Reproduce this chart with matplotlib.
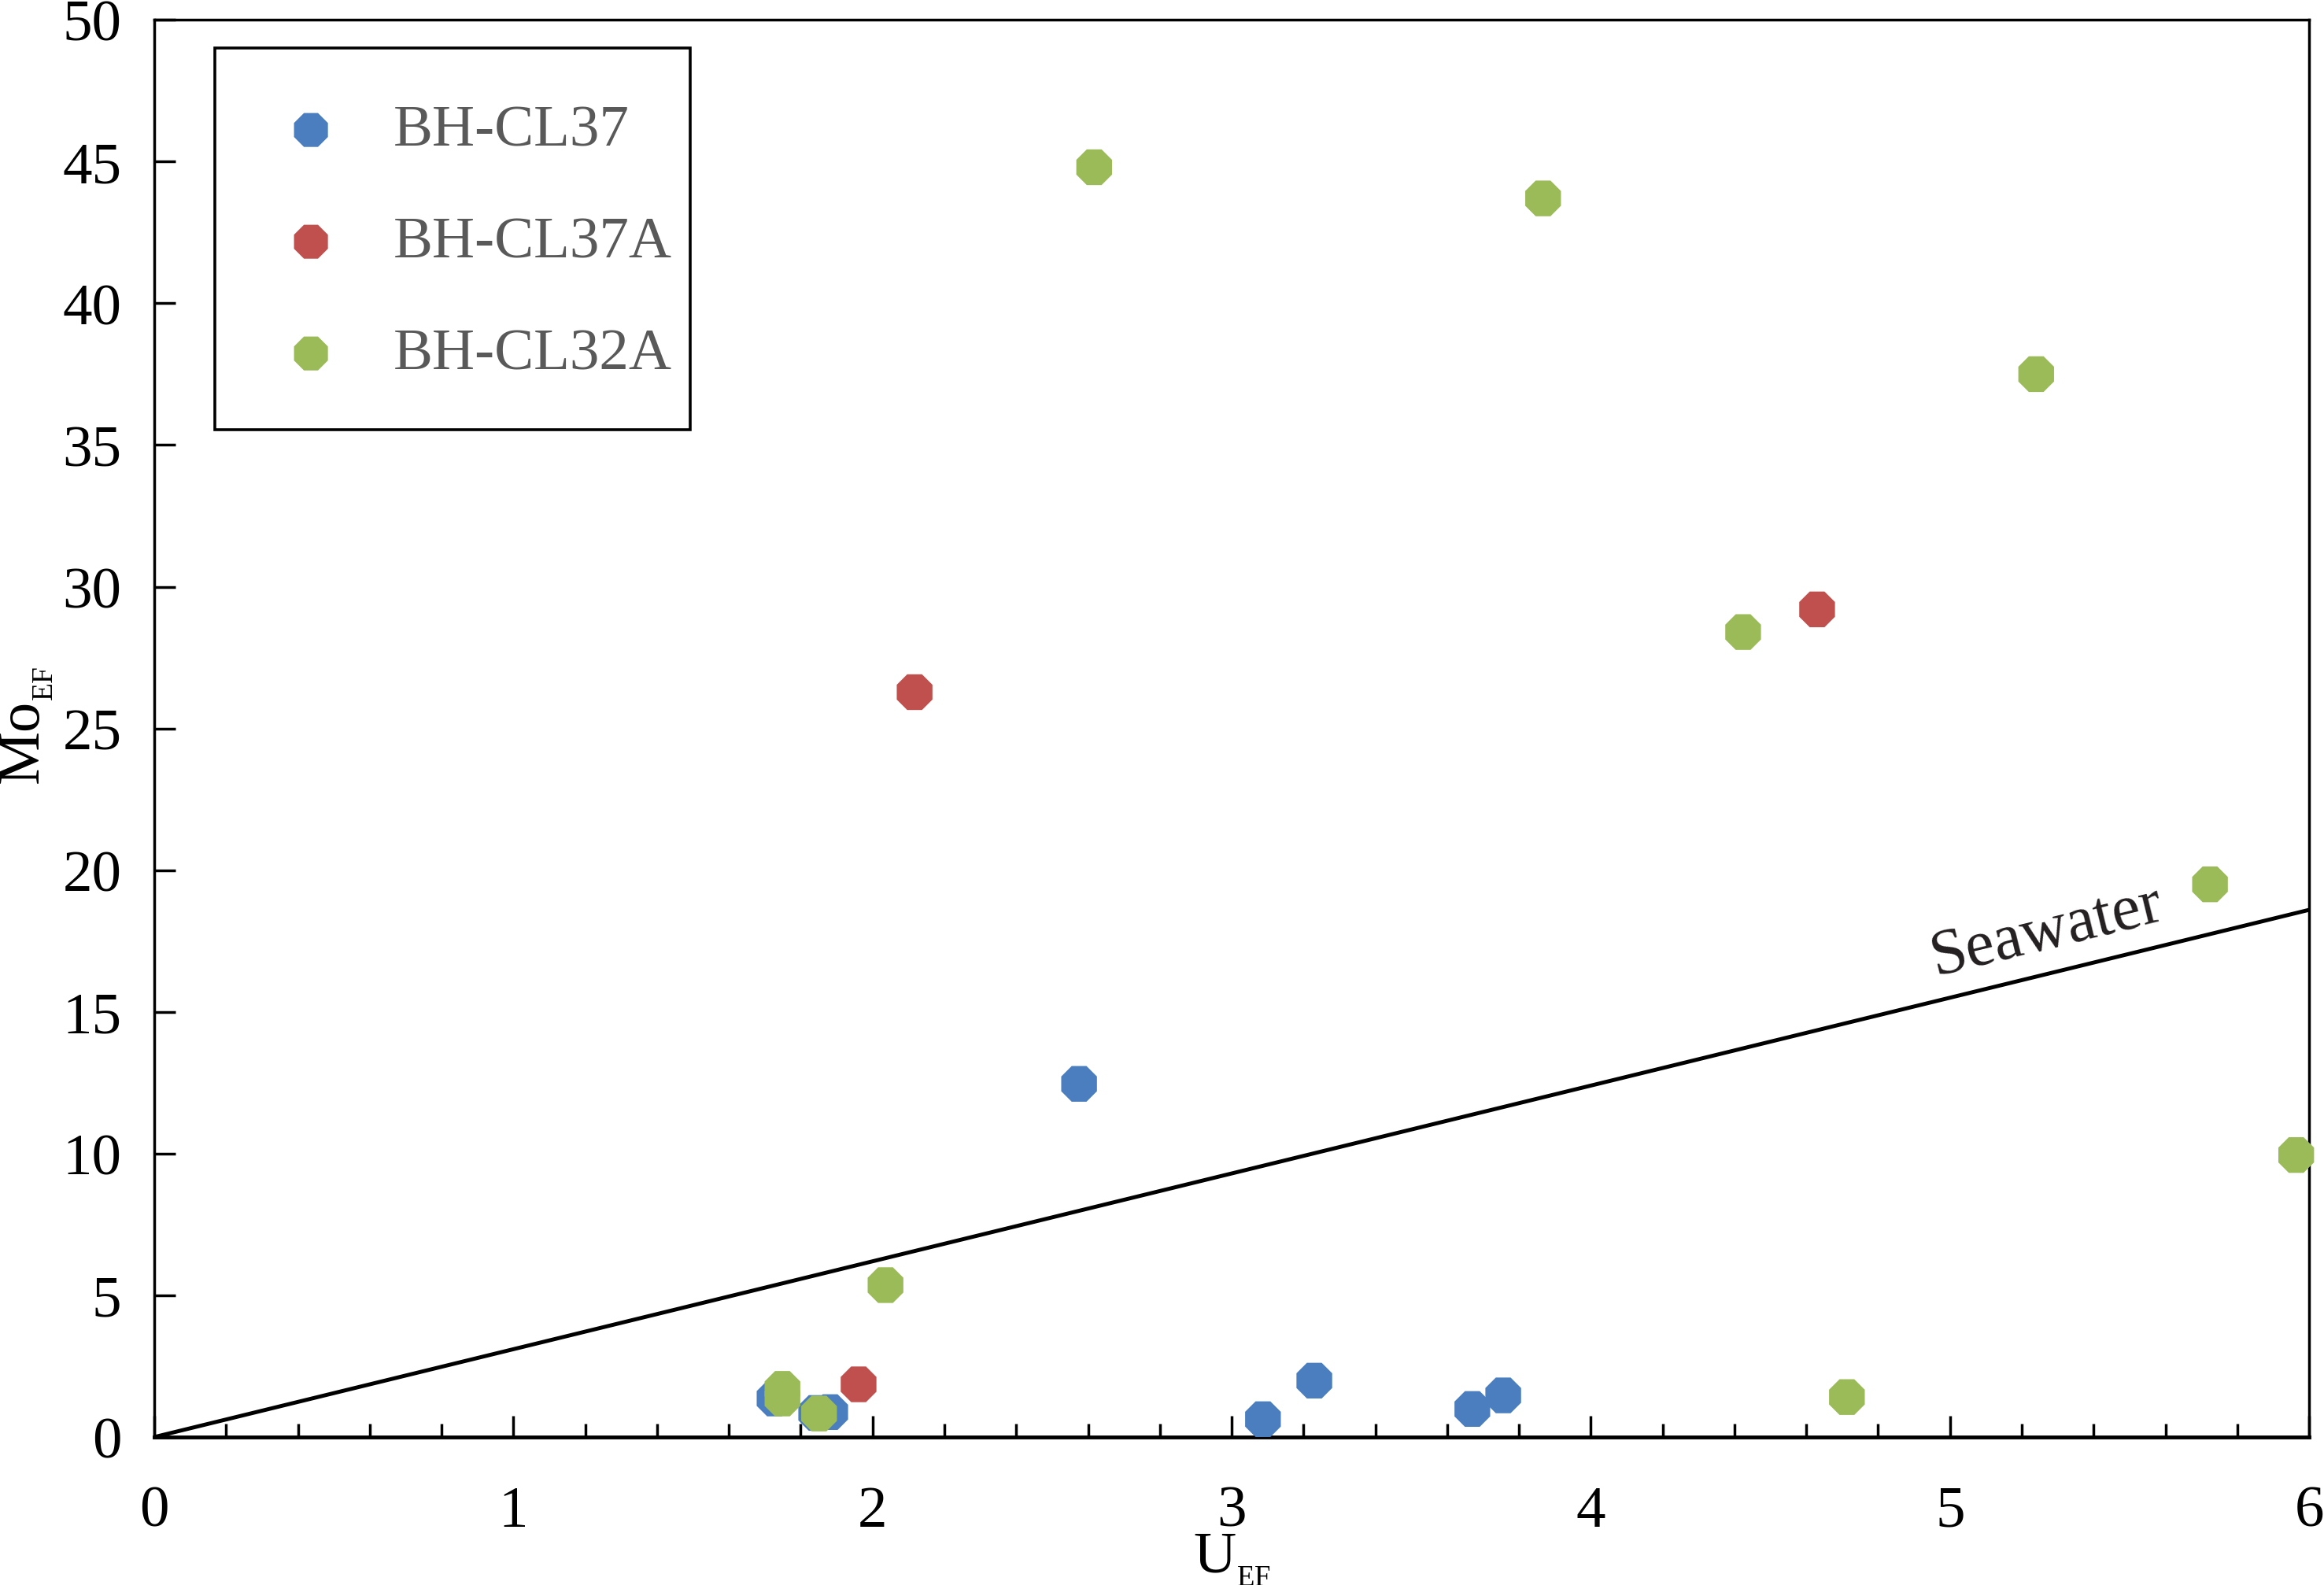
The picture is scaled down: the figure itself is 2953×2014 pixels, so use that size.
import matplotlib
matplotlib.use("Agg")
import matplotlib.pyplot as plt
import numpy as np
from matplotlib.ticker import MultipleLocator
from matplotlib.patches import Rectangle

plt.rcParams['font.family'] = ['Liberation Serif', 'DejaVu Serif']
plt.rcParams['mathtext.fontset'] = 'custom'
plt.rcParams['mathtext.rm'] = 'Liberation Serif'
plt.rcParams['mathtext.it'] = 'Liberation Serif:italic'

# ---- data ----
cl37_u = [2.575, 3.23, 3.087, 3.67, 3.756, 1.727, 1.843, 1.882]
cl37_mo = [12.46, 1.99, 0.63, 0.99, 1.47, 1.36, 0.85, 0.88]

cl37a_u = [2.117, 4.63, 1.961]
cl37a_mo = [26.28, 29.2, 1.86]

cl32a_u = [2.617, 3.867, 5.24, 4.424, 5.724, 5.964, 2.036, 1.749, 1.749, 1.851, 4.713]
cl32a_mo = [44.8, 43.7, 37.5, 28.4, 19.5, 9.95, 5.36, 1.70, 1.36, 0.83, 1.41]

series_names = ['BH-CL37', 'BH-CL37A', 'BH-CL32A']
series_colors = ['#4A7EBF', '#C0504D', '#9BBB59']

seawater_ratio = 3.1
seawater_u = [0, 6]

x_ticks = [0, 1, 2, 3, 4, 5, 6]
y_ticks = [0, 5, 10, 15, 20, 25, 30, 35, 40, 45, 50]

# ---- figure ----
fig = plt.figure(figsize=(29.53, 20.15), dpi=100)
ax = fig.add_axes([0.0664, 0.0933, 0.9272, 0.8937])

ax.plot(seawater_u, [u * seawater_ratio for u in seawater_u], color='black', lw=3.6,
        solid_capstyle='butt', zorder=2)

for u, mo, name, c in zip([cl37_u, cl37a_u, cl32a_u], [cl37_mo, cl37a_mo, cl32a_mo],
                          series_names, series_colors):
    ax.scatter(u, mo, s=1250, marker='8', color=c, edgecolors='none', label=name,
               zorder=3, clip_on=False)

ax.text(5.27, 17.85, 'Seawater', fontsize=59, rotation=13.7, ha='center', va='center',
        rotation_mode='anchor', color='#231F20')

ax.set_xlim(0, 6)
ax.set_ylim(0, 50)
ax.set_xticks(x_ticks)
ax.set_yticks(y_ticks)
ax.xaxis.set_minor_locator(MultipleLocator(0.2))

ax.tick_params(axis='both', which='both', direction='in', top=False, right=False,
               labelsize=54, width=2.5, color='black')
ax.tick_params(axis='x', which='major', length=19.5, pad=44)
ax.tick_params(axis='x', which='minor', length=12)
ax.tick_params(axis='y', which='major', length=19.5, pad=30)

for s in ['left', 'right', 'top']:
    ax.spines[s].set_linewidth(2.5)
ax.spines['bottom'].set_linewidth(3.5)

ax.set_xlabel(r'U$_{{}_{\mathregular{EF}}}$', fontsize=54)
ax.set_ylabel(r'Mo$_{{}_{\mathregular{EF}}}$', fontsize=55)
ax.xaxis.set_label_coords(0.5, -0.0672)
ax.yaxis.set_label_coords(-0.046, 0.5025)

# legend box
ax.add_patch(Rectangle((0.0281, 0.711), 0.2206, 0.269, transform=ax.transAxes,
                       fill=False, edgecolor='black', lw=2.6, zorder=4))
leg = ax.legend(loc='upper left', bbox_to_anchor=(0.059, 0.9405), borderaxespad=0,
                fontsize=54, frameon=False, borderpad=0, labelspacing=0.98,
                handlelength=1.0, handletextpad=0.89, scatterpoints=1, markerscale=0.95)
for t in leg.get_texts():
    t.set_color('#595959')

fig.savefig('out.png', dpi=100)
